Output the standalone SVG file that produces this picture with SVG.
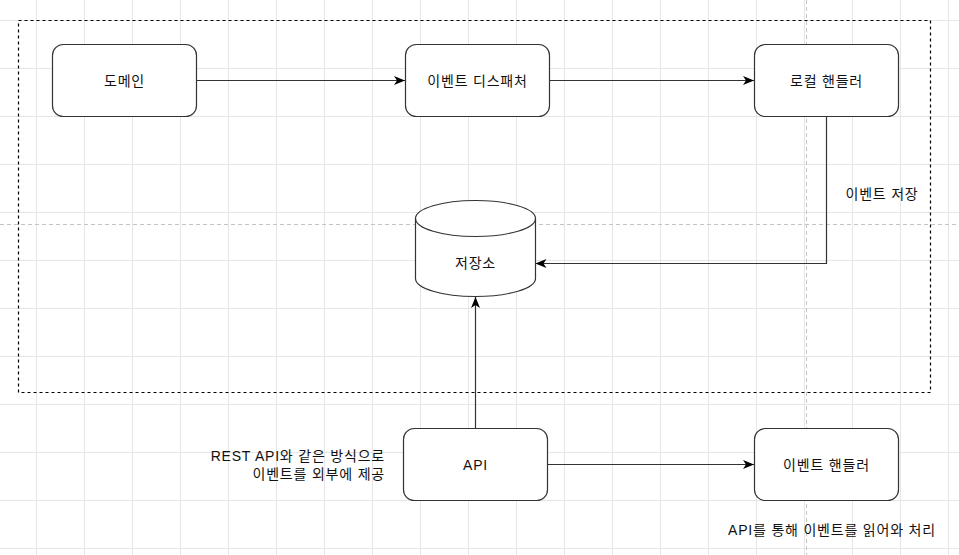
<svg xmlns="http://www.w3.org/2000/svg" width="959" height="555" viewBox="0 0 959 555">
<style>
.box{fill:#ffffff;stroke:#333333;stroke-width:1.2}
.edge{fill:none;stroke:#333333;stroke-width:1.2}
.t{font-family:"Liberation Sans","Noto Sans CJK KR",sans-serif;font-size:14px;fill:#111111;letter-spacing:0.8px}
.c{text-anchor:middle}
.r{text-anchor:end}
</style>
<defs>
<pattern id="grid" x="0" y="0" width="48" height="48" patternUnits="userSpaceOnUse" patternTransform="translate(36 20)">
<path d="M0 0.5 H48 M0.5 0 V48" fill="none" stroke="#e6e6e6" stroke-width="1"/>
</pattern>
<marker id="arr" viewBox="0 0 11 9" refX="11" refY="4.5" markerWidth="11" markerHeight="9" markerUnits="userSpaceOnUse" orient="auto">
<path d="M0 0 L11 4.5 L0 9 L3 4.5 Z" fill="#000000"/>
</marker>
</defs>
<rect x="0" y="0" width="959" height="555" fill="#ffffff"/>
<rect x="0" y="0" width="959" height="555" fill="url(#grid)"/>
<g id="pagebreaks" stroke="#c4c4c4" stroke-width="1" stroke-dasharray="4 3" fill="none">
<path d="M0 224.5 H959"/>
<path d="M806.5 0 V555"/>
</g>
<rect id="container" x="18.5" y="20.5" width="912" height="372" fill="none" stroke="#000000" stroke-width="1.2" stroke-dasharray="3 3"/>
<g id="connectors">
<path class="edge" d="M196.5 80.5 H405" marker-end="url(#arr)"/>
<path class="edge" d="M549.5 80.5 H754" marker-end="url(#arr)"/>
<path class="edge" d="M826.5 116.5 V263.5 H535.5" marker-end="url(#arr)"/>
<path class="edge" d="M475.5 428.5 V297" marker-end="url(#arr)"/>
<path class="edge" d="M547.5 464.5 H754" marker-end="url(#arr)"/>
<text class="t c" x="882" y="199">이벤트 저장</text>
</g>
<g id="domain">
<rect class="box" x="52.5" y="44.5" width="144" height="72" rx="10.8"/>
<text class="t c" x="124.5" y="86">도메인</text>
</g>
<g id="dispatcher">
<rect class="box" x="405.5" y="44.5" width="144" height="72" rx="10.8"/>
<text class="t c" x="477.5" y="86">이벤트 디스패처</text>
</g>
<g id="local-handler">
<rect class="box" x="754.5" y="44.5" width="144" height="72" rx="10.8"/>
<text class="t c" x="826.5" y="86">로컬 핸들러</text>
</g>
<g id="storage">
<path class="box" d="M415.5 218.5 A60 18 0 0 1 535.5 218.5 V278.5 A60 18 0 0 1 415.5 278.5 Z"/>
<path class="edge" d="M415.5 218.5 A60 18 0 0 0 535.5 218.5"/>
<text class="t c" x="475.5" y="268">저장소</text>
</g>
<g id="api">
<rect class="box" x="403.5" y="428.5" width="144" height="72" rx="10.8"/>
<text class="t c" x="475.5" y="470">API</text>
</g>
<g id="event-handler">
<rect class="box" x="754.5" y="428.5" width="144" height="72" rx="10.8"/>
<text class="t c" x="826.5" y="470">이벤트 핸들러</text>
</g>
<g id="notes">
<text class="t r" x="385" y="461">REST API와 같은 방식으로</text>
<text class="t r" x="385" y="479">이벤트를 외부에 제공</text>
<text class="t c" x="832" y="535">API를 통해 이벤트를 읽어와 처리</text>
</g>
</svg>
